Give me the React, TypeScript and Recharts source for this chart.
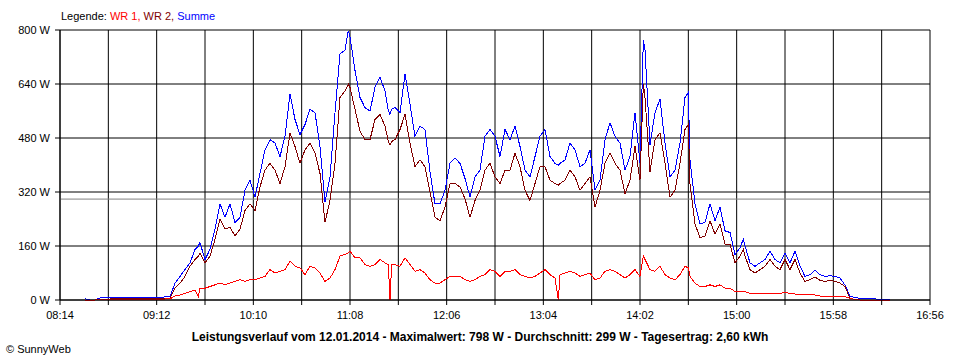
import { LineChart, Line, XAxis, YAxis, CartesianGrid, ReferenceLine } from 'recharts';

// sample times (HH:MM)
const times = [
  '08:29', '08:32', '08:35', '08:38', '08:41', '08:44', '08:47', '08:50', '08:53', '08:56',
  '08:59', '09:02', '09:05', '09:08', '09:11', '09:14', '09:17', '09:20', '09:23', '09:26',
  '09:29', '09:32', '09:35', '09:37', '09:38', '09:41', '09:44', '09:47', '09:50', '09:53',
  '09:56', '09:59', '10:02', '10:05', '10:08', '10:11', '10:14', '10:17', '10:20', '10:23',
  '10:26', '10:29', '10:32', '10:35', '10:38', '10:41', '10:44', '10:47', '10:50', '10:53',
  '10:56', '10:59', '11:02', '11:05', '11:07', '11:08', '11:11', '11:14', '11:17', '11:20',
  '11:23', '11:26', '11:29', '11:31', '11:32', '11:33', '11:35', '11:38', '11:41', '11:44',
  '11:47', '11:50', '11:53', '11:56', '11:59', '12:02', '12:05', '12:08', '12:11', '12:14',
  '12:17', '12:20', '12:23', '12:26', '12:29', '12:32', '12:35', '12:38', '12:41', '12:44',
  '12:47', '12:50', '12:53', '12:56', '12:59', '13:02', '13:05', '13:08', '13:11', '13:13',
  '13:14', '13:17', '13:20', '13:23', '13:26', '13:29', '13:32', '13:35', '13:38', '13:41',
  '13:44', '13:47', '13:50', '13:53', '13:56', '13:59', '14:02', '14:04', '14:05', '14:08',
  '14:11', '14:14', '14:17', '14:20', '14:23', '14:26', '14:29', '14:31', '14:32', '14:35',
  '14:38', '14:41', '14:44', '14:47', '14:50', '14:53', '14:56', '14:59', '15:02', '15:04',
  '15:05', '15:08', '15:11', '15:14', '15:17', '15:20', '15:23', '15:26', '15:29', '15:32',
  '15:35', '15:38', '15:41', '15:44', '15:47', '15:50', '15:53', '15:56', '15:59', '16:02',
  '16:05', '16:08', '16:11', '16:14', '16:17', '16:20', '16:23', '16:26', '16:29', '16:32',
];

// WR 1 (red)
const wr1 = [
  0, 0, 0, 1, 1, 1, 1, 2, 2, 2,
  2, 2, 2, 2, 2, 2, 3, 3, 12, 15,
  20, 25, 30, 10, 35, 35, 40, 45, 50, 45,
  50, 55, 60, 55, 60, 60, 65, 70, 90, 80,
  85, 90, 115, 100, 95, 75, 100, 95, 80, 55,
  65, 90, 130, 135, 140, 145, 125, 125, 105, 100,
  105, 120, 110, 105, 0, 105, 105, 100, 125, 105,
  85, 90, 80, 60, 50, 50, 60, 70, 70, 70,
  60, 55, 60, 70, 75, 90, 85, 70, 85, 85,
  90, 75, 70, 65, 70, 80, 90, 75, 65, 0,
  75, 80, 85, 80, 70, 75, 80, 60, 65, 85,
  90, 85, 75, 65, 75, 90, 70, 130, 120, 90,
  85, 100, 75, 65, 60, 75, 100, 95, 70, 50,
  40, 40, 45, 40, 45, 35, 35, 25, 25, 25,
  25, 20, 20, 20, 20, 20, 20, 20, 22, 20,
  18, 15, 15, 15, 15, 12, 10, 10, 12, 10,
  10, 5, 2, 0, 0, 0, 0, 0, 0, 0,
];

// WR 2 (dark red)
const wr2 = [
  0, 0, 0, 2, 2, 3, 3, 3, 3, 3,
  3, 3, 4, 4, 4, 4, 5, 5, 35, 50,
  70, 100, 120, 130, 140, 110, 130, 180, 240, 210,
  215, 190, 210, 265, 285, 265, 335, 385, 405, 385,
  345, 395, 495, 455, 405, 445, 465, 435, 375, 230,
  295, 405, 600, 620, 640, 630, 565, 500, 475, 475,
  535, 550, 515, 470, 460, 470, 475, 505, 550, 465,
  395, 415, 395, 320, 245, 235, 275, 345, 345, 335,
  300, 245, 295, 325, 385, 405, 365, 345, 385, 385,
  435, 395, 325, 295, 345, 395, 395, 355, 345, 340,
  345, 355, 385, 365, 325, 345, 365, 275, 325, 405,
  435, 405, 385, 315, 355, 455, 355, 640, 600, 380,
  475, 495, 405, 305, 325, 405, 505, 520, 345, 225,
  185, 190, 235, 195, 225, 165, 165, 110, 130, 150,
  130, 90, 80, 90, 100, 120, 100, 90, 120, 90,
  120, 80, 55, 60, 68, 58, 55, 59, 55, 50,
  40, 5, 2, 0, 0, 0, 0, 0, 0, 0,
];

// Summe (blue)
const summe = [
  4, 0, 0, 6, 6, 6, 7, 6, 7, 7,
  7, 6, 7, 8, 8, 8, 9, 10, 50, 70,
  90, 110, 150, 160, 170, 120, 150, 210, 285, 245,
  285, 230, 245, 325, 355, 305, 375, 445, 475, 465,
  425, 485, 610, 535, 490, 520, 565, 555, 455, 290,
  365, 555, 730, 740, 798, 780, 680, 600, 570, 560,
  630, 660, 620, 560, 550, 565, 570, 555, 670, 580,
  485, 515, 505, 380, 285, 285, 325, 405, 420, 405,
  360, 305, 365, 385, 485, 505, 485, 425, 505, 475,
  515, 455, 385, 365, 425, 485, 505, 425, 405, 400,
  405, 415, 465, 445, 395, 405, 445, 325, 355, 475,
  525, 485, 465, 385, 425, 555, 405, 770, 740, 460,
  555, 595, 465, 365, 385, 465, 600, 615, 415, 285,
  225, 230, 285, 235, 275, 205, 200, 135, 155, 180,
  160, 110, 100, 110, 120, 145, 120, 110, 140, 110,
  145, 100, 70, 75, 88, 75, 70, 72, 70, 65,
  44, 12, 7, 5, 5, 5, 4, 0, 3, 0,
];

const yTicks = [0, 160, 320, 480, 640, 800];
const xLabels = ['08:14', '09:12', '10:10', '11:08', '12:06', '13:04', '14:02', '15:00', '15:58', '16:56'];
const average = 299;

const toMin = (s: string) => {
  const [h, m] = s.split(':').map(Number);
  return h * 60 + m;
};
const fmt = (v: number) =>
  `${String(Math.floor(v / 60)).padStart(2, '0')}:${String(v % 60).padStart(2, '0')}`;

const data = times.map((t, i) => ({ t: toMin(t), wr1: wr1[i], wr2: wr2[i], summe: summe[i] }));

// labelled ticks plus the unlabelled ones half way between them
const labelMins = xLabels.map(toMin);
const xTicks: number[] = [];
labelMins.forEach((m, i) => {
  xTicks.push(m);
  if (i < labelMins.length - 1) xTicks.push((m + labelMins[i + 1]) / 2);
});

const font = 'Liberation Sans, Arial, sans-serif';
const tickStyle = { fontFamily: font, fontSize: 11, fill: '#000' };

export default function App() {
  return (
    <div style={{ position: 'absolute', left: 0, top: 0, width: 960, height: 360, background: '#fff', fontFamily: font }}>
      <LineChart width={960} height={360} data={data} margin={{ top: 30, right: 30, left: 5, bottom: 30 }}>
        <CartesianGrid stroke="#000" strokeWidth={1} />
        <XAxis
          dataKey="t"
          type="number"
          domain={[labelMins[0], labelMins[labelMins.length - 1]]}
          ticks={xTicks}
          interval={0}
          tickFormatter={(v: number) => (labelMins.includes(v) ? fmt(v) : '')}
          tick={tickStyle}
          tickSize={5}
          tickMargin={6}
          axisLine={{ stroke: '#000' }}
          tickLine={{ stroke: '#000' }}
          height={30}
        />
        <YAxis
          domain={[0, 800]}
          ticks={yTicks}
          interval={0}
          tickFormatter={(v: number) => `${v} W`}
          tick={tickStyle}
          tickSize={5}
          tickMargin={5}
          axisLine={{ stroke: '#000' }}
          tickLine={{ stroke: '#000' }}
          width={55}
        />
        <ReferenceLine y={average} stroke="#808080" strokeWidth={1} />
        <Line type="linear" dataKey="summe" stroke="#0000FF" strokeWidth={1} dot={false} shapeRendering="crispEdges" isAnimationActive={false} />
        <Line type="linear" dataKey="wr2" stroke="#800000" strokeWidth={1} dot={false} shapeRendering="crispEdges" isAnimationActive={false} />
        <Line type="linear" dataKey="wr1" stroke="#FF0000" strokeWidth={1} dot={false} shapeRendering="crispEdges" isAnimationActive={false} />
      </LineChart>

      <div style={{ position: 'absolute', left: 61, top: 9, fontSize: 11, lineHeight: '14px', whiteSpace: 'nowrap' }}>
        <span style={{ color: '#000' }}>Legende: </span>
        <span style={{ color: '#FF0000' }}>WR 1, </span>
        <span style={{ color: '#800000' }}>WR 2, </span>
        <span style={{ color: '#0000FF' }}>Summe</span>
      </div>
      <div style={{ position: 'absolute', left: 0, width: 960, top: 330, textAlign: 'center', fontSize: 12, fontWeight: 'bold', lineHeight: '14px', color: '#000', whiteSpace: 'nowrap' }}>
        Leistungsverlauf vom 12.01.2014 - Maximalwert: 798 W - Durchschnitt: 299 W - Tagesertrag: 2,60 kWh
      </div>
      <div style={{ position: 'absolute', left: 6, top: 342, fontSize: 11, lineHeight: '14px', color: '#000' }}>
        © SunnyWeb
      </div>
    </div>
  );
}
